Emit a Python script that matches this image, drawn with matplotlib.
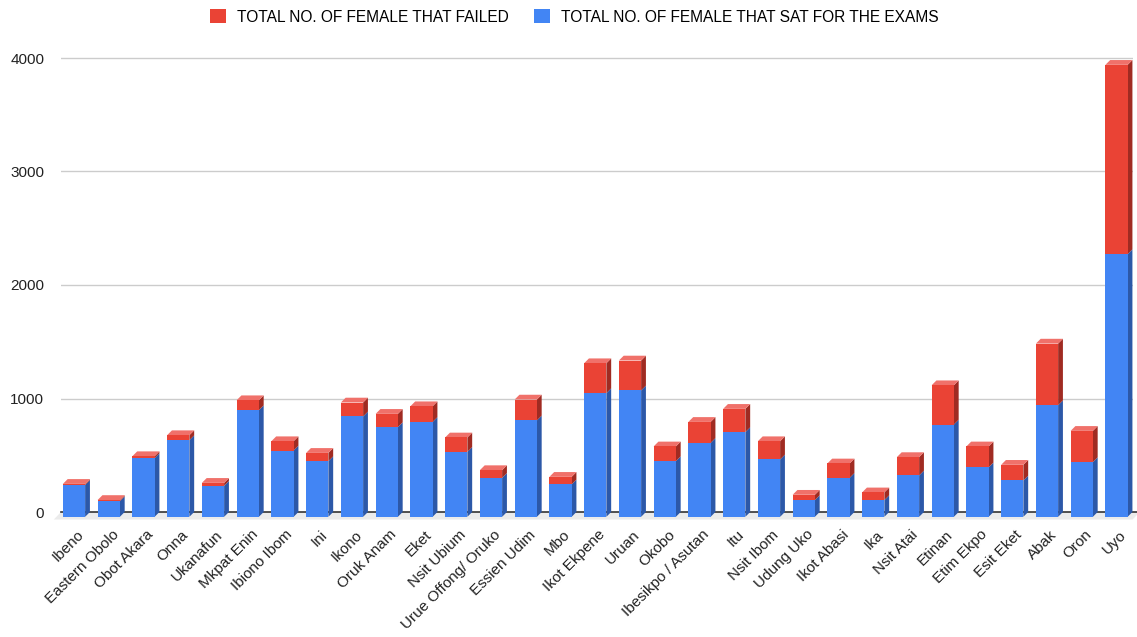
import matplotlib
matplotlib.use("Agg")
import matplotlib.pyplot as plt
import numpy as np
from matplotlib.collections import PolyCollection
from matplotlib.patches import Patch
from matplotlib.transforms import ScaledTranslation

plt.rcParams['font.family'] = ['Liberation Sans', 'DejaVu Sans']

# local government areas
lgas = ['Ibeno', 'Eastern Obolo', 'Obot Akara', 'Onna', 'Ukanafun', 'Mkpat Enin',
        'Ibiono Ibom', 'Ini', 'Ikono', 'Oruk Anam', 'Eket', 'Nsit Ubium',
        'Urue Offong/ Oruko', 'Essien Udim', 'Mbo', 'Ikot Ekpene', 'Uruan', 'Okobo',
        'Ibesikpo / Asutan', 'Itu', 'Nsit Ibom', 'Udung Uko', 'Ikot Abasi', 'Ika',
        'Nsit Atai', 'Etinan', 'Etim Ekpo', 'Esit Eket', 'Abak', 'Oron', 'Uyo']

# female candidates that sat (bottom, blue)
sat = [280, 138, 517, 675, 273, 939, 584, 490, 884, 790, 836, 572,
       343, 849, 285, 1089, 1113, 490, 651, 746, 505, 147, 343, 147,
       364, 813, 435, 320, 983, 482, 2314]

# female candidates that failed (stacked on top, red)
failed = [10, 10, 17, 44, 26, 88, 82, 73, 123, 117, 138, 127,
          68, 184, 67, 264, 264, 130, 185, 205, 161, 47, 127, 68,
          162, 346, 185, 138, 543, 275, 1668]

yticks = [0, 1000, 2000, 3000, 4000]

sat = np.array(sat)
failed = np.array(failed)
x = np.arange(len(lgas))

BLUE = '#4285f4'
BLUE_SIDE = '#2c58a8'
RED = '#ea4335'
RED_SIDE = '#a02b22'
RED_TOP = '#f0716a'

fig = plt.figure(figsize=(11.37, 6.37), dpi=100)
W, H = 1137, 637
# axes = back plane of the 3d chart
px_unit = 34.75            # pixels per bar slot
ppy = 454 / 4000           # pixels per value
x0, x1 = -0.374, 30.47
y0, y1 = -100, 4100
left_px = 74 + x0 * px_unit
bot_px = (637 - 512) + y0 * ppy
ax = fig.add_axes([left_px / W, bot_px / H,
                   (x1 - x0) * px_unit / W, (y1 - y0) * ppy / H])
ax.set_xlim(x0, x1)
ax.set_ylim(y0, y1)
for s in ax.spines.values():
    s.set_visible(False)

# depth of the 3d effect in data units
dx = 4.8 / px_unit
dy = 4.8 / ppy
w = 0.64

# grid
for t in yticks[1:]:
    ax.plot([x0, x1], [t, t], color='#cccccc', lw=1, zorder=0)

# floor
fl = 7.5 / ppy
ax.fill([x0, x1 + 0.2, x1 + 0.2 - dx * 1.5, x0 - dx * 1.5],
        [0, 0, -fl, -fl], color='#ebebeb', lw=0, zorder=0.5, clip_on=False)
ax.plot([x0, x1 + 0.2], [0, 0], color='#333333', lw=1.2, zorder=0.6, clip_on=False)

# front faces
ax.bar(x, sat, width=w, bottom=-dy, color=BLUE, zorder=2, clip_on=False)
ax.bar(x, failed, width=w, bottom=sat - dy, color=RED, zorder=2, clip_on=False)

# side faces
tops = sat + failed
def side(b, t):
    xr = x + w / 2
    return [[(a, bb - dy), (a + dx, bb), (a + dx, tt), (a, tt - dy)]
            for a, bb, tt in zip(xr, b, t)]
ax.add_collection(PolyCollection(side(np.zeros_like(sat), sat), facecolors=BLUE_SIDE,
                                 edgecolors='none', zorder=1.5, clip_on=False))
ax.add_collection(PolyCollection(side(sat, tops), facecolors=RED_SIDE,
                                 edgecolors='none', zorder=1.5, clip_on=False))
# top faces
top_faces = [[(a - w / 2, t - dy), (a + w / 2, t - dy), (a + w / 2 + dx, t), (a - w / 2 + dx, t)]
             for a, t in zip(x, tops)]
ax.add_collection(PolyCollection(top_faces, facecolors=RED_TOP, edgecolors='none',
                                 zorder=1.6, clip_on=False))

# ticks
ax.set_yticks(yticks)
ax.set_yticklabels([str(t) for t in yticks], fontsize=11, color='#222222')
ax.tick_params(axis='y', length=0, pad=12)
ax.set_xticks(x)
ax.set_xticklabels(lgas, rotation=45, ha='right', rotation_mode='anchor',
                   fontsize=11, color='#222222')
ax.tick_params(axis='x', length=0, pad=3)
off = ScaledTranslation(2 / 72, 0, fig.dpi_scale_trans)
for lab in ax.get_xticklabels():
    lab.set_transform(lab.get_transform() + off)

# legend
handles = [Patch(facecolor=RED, edgecolor='none'), Patch(facecolor=BLUE, edgecolor='none')]
fig.legend(handles, ['TOTAL NO. OF FEMALE THAT FAILED', 'TOTAL NO. OF FEMALE THAT SAT FOR THE EXAMS'],
           loc='upper center', bbox_to_anchor=(0.5053, 1.0), ncol=2, frameon=False,
           fontsize=11.2, handlelength=1.0, handleheight=1.0, handletextpad=0.75,
           columnspacing=1.6, borderaxespad=0.2)

fig.savefig('out.png', dpi=100, facecolor='white')
